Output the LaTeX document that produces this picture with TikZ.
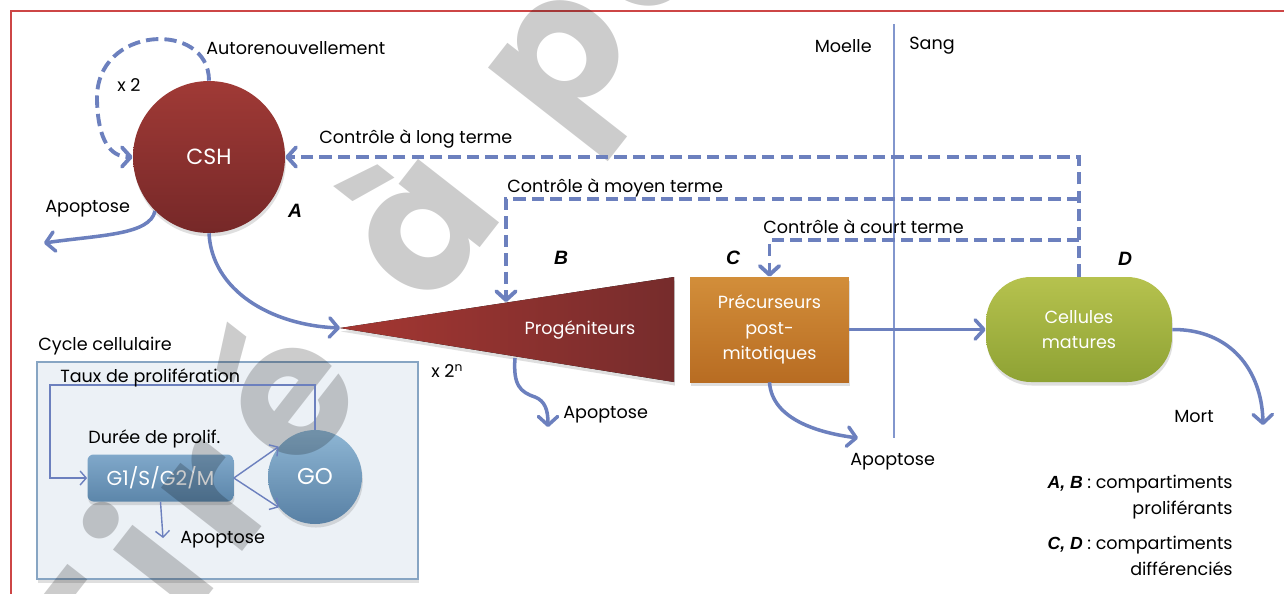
\documentclass[tikz,border=0pt]{standalone}
\usepackage{fontspec}
\setmainfont{Poppins}
\newfontfamily\lblfont{Liberation Sans}
\newfontfamily\wmfont{Poppins}
\usetikzlibrary{arrows.meta,shadows}
\definecolor{flowblue}{RGB}{108,128,190}
\definecolor{linblue}{RGB}{130,150,205}
\definecolor{framered}{RGB}{205,70,70}
\definecolor{cshtop}{RGB}{160,58,54}
\definecolor{cshbot}{RGB}{118,40,40}
\definecolor{tril}{RGB}{165,55,50}
\definecolor{trir}{RGB}{118,44,44}
\definecolor{prectop}{RGB}{210,142,58}
\definecolor{precbot}{RGB}{184,108,34}
\definecolor{mattop}{RGB}{182,194,78}
\definecolor{matbot}{RGB}{142,162,52}
\definecolor{gotop}{RGB}{142,182,212}
\definecolor{gobot}{RGB}{88,128,164}
\definecolor{gonetop}{RGB}{128,168,202}
\definecolor{gonebot}{RGB}{92,134,170}
\definecolor{cycfill}{RGB}{236,241,246}
\definecolor{cycborder}{RGB}{135,165,195}
\begin{document}
\begin{tikzpicture}[x=0.02cm,y=-0.02cm,
  font=\fontsize{10}{12}\selectfont,
  flow/.style={draw=flowblue, line width=2pt, -{Straight Barb[length=5pt,width=11pt,round]}},
  ctrl/.style={draw=flowblue, line width=2.2pt, dash pattern=on 7pt off 3.5pt, -{Straight Barb[length=5pt,width=11pt,round]}},
  thinflow/.style={draw=flowblue, line width=0.8pt, -{Straight Barb[length=3.5pt,width=8pt]}},
  lbl/.style={font=\lblfont\bfseries\itshape\fontsize{11}{13}\selectfont},
  txt/.style={inner sep=0pt},
  wm/.style={text=black, text opacity=0.2, rotate=52, anchor=base, inner sep=0pt, font=\wmfont\bfseries\fontsize{105}{105}\selectfont},
  shad/.style={drop shadow={opacity=0.25,shadow xshift=0.5pt,shadow yshift=-2pt}}
]
\useasboundingbox (0,0) rectangle (1284,593);
\clip (0,0) rectangle (1284,593);
\fill[white] (0,0) rectangle (1284,593);
% frame
\draw[framered, line width=0.9pt] (11,600) -- (11,11) -- (1290,11);

% cycle box
\node[draw=cycborder, line width=1pt, fill=cycfill, minimum width=7.62cm, minimum height=4.34cm, shad] (cyc) at (227.5,470.5) {};

% main shapes
\node[circle, minimum size=3.04cm, top color=cshtop, bottom color=cshbot, text=white, font=\fontsize{12.5}{14}\selectfont, shad] (csh) at (209,157) {CSH};
\fill[left color=tril, right color=trir, shad] (340,328) -- (674,277) -- (674,382) -- cycle;
\coordinate (tip) at (340,328);
\coordinate (tB) at (506,302);
\coordinate (tA) at (515,358);
\node[text=white, txt] (prog) at (580,330) {Progéniteurs};
\node[rectangle, minimum width=3.18cm, minimum height=2.1cm, top color=prectop, bottom color=precbot, text=white, align=center, font=\fontsize{10}{14.5}\selectfont, shad] (prec) at (769.5,329.5) {Précurseurs\\post-\\mitotiques};
\node[rectangle, rounded corners=0.9cm, minimum width=3.72cm, minimum height=2.1cm, top color=mattop, bottom color=matbot, text=white, align=center, font=\fontsize{10}{14}\selectfont, shad] (mat) at (1079,329.5) {Cellules\\matures};
\node[rectangle, rounded corners=0.12cm, minimum width=2.92cm, minimum height=0.94cm, top color=gonetop, bottom color=gonebot, text=white, font=\fontsize{11.5}{13}\selectfont, shad] (g1) at (160.5,478) {G1/S/G2/M};
\node[circle, minimum size=1.88cm, top color=gotop, bottom color=gobot, text=white, font=\fontsize{13}{15}\selectfont, shad] (go) at (315,477) {GO};

% watermark
\node[wm] at (139,684) {T};
\node[wm] at (204,601) {i};
\node[wm] at (260,529) {r};
\node[wm] at (335,434) {é};
\node[wm] at (468,263) {à};
\node[wm] at (601,91) {p};
\node[wm] at (689,-21) {a};

% Moelle / Sang separator
\coordinate (ms1) at (894,24);
\coordinate (ms2) at (894,438);
\draw[linblue, line width=1pt] (ms1) -- (ms2);

% control loops
\draw[ctrl] (csh.north) .. controls (209,20) and (95,25) .. (97,100) .. controls (98,140) and (110,157) .. (csh.west);
\draw[ctrl] (mat.north) -- (mat.north |- csh.east) -- (csh.east);
\coordinate (mid) at (1079,199);
\coordinate (short) at (1079,240);
\draw[ctrl] (mid) -- (mid -| tB) -- (tB);
\draw[ctrl] (short) -- (short -| prec.north) -- (prec.north);

% flows
\coordinate (apoA) at (44,243);
\coordinate (apoB) at (548,427);
\coordinate (apoC) at (858,438);
\coordinate (mortend) at (1263,425);
\draw[flow] (csh.south) .. controls (212,290) and (270,325) .. (tip);
\draw[flow] (csh.225) .. controls (150,235) and (100,235) .. (apoA);
\draw[flow] (tA) .. controls (513,385) and (520,392) .. (535,397) .. controls (545,401) and (548,410) .. (apoB);
\draw[flow] (prec.south) .. controls (772,420) and (820,433) .. (apoC);
\draw[flow] (prec.east) -- (mat.west);
\draw[flow] (mat.east) .. controls (1230,329) and (1262,370) .. (mortend);

% cycle arrows
\coordinate (fb) at (50,385);
\coordinate (g1apo) at (163,538);
\draw[thinflow] (go.north) |- (fb) |- (g1.west);
\draw[thinflow] (g1.east) -- (go.140);
\draw[thinflow] (g1.east) -- (go.220);
\draw[thinflow] (g1.south) -- (g1apo);

% labels
\node[txt, anchor=west] (lauto) at (206,48) {Autorenouvellement};
\node[txt, anchor=west] (lx2) at (117,85) {x 2};
\node[txt, anchor=west] (llong) at (319,139) {Contrôle à long terme};
\node[txt, anchor=west] (lmoy) at (507,188) {Contrôle à moyen terme};
\node[txt, anchor=west] (lcourt) at (763,227) {Contrôle à court terme};
\node[txt, anchor=west] (lapoA) at (45,209) {Apoptose};
\node[txt, anchor=west] (lapoB) at (563,415) {Apoptose};
\node[txt, anchor=west] (lapoC) at (850,462) {Apoptose};
\node[txt, anchor=west] (lapoG) at (180,540) {Apoptose};
\node[txt, anchor=east] (lmoelle) at (872,46) {Moelle};
\node[txt, anchor=west] (lsang) at (909,46) {Sang};
\node[txt, anchor=west] (lmort) at (1174,416) {Mort};
\node[txt, anchor=west] (lx2n) at (431,371) {x 2\textsuperscript{n}};
\node[txt, anchor=west] (lcyc) at (38,346) {Cycle cellulaire};
\node[txt, anchor=west] (ltaux) at (60,378) {Taux de prolifération};
\node[txt, anchor=west] (ldur) at (88,439) {Durée de prolif.};
\node[lbl] (lA) at (295,211) {A};
\node[lbl] (lB) at (561,258) {B};
\node[lbl] (lC) at (733,258) {C};
\node[lbl] (lD) at (1125,259) {D};
\node[txt, anchor=east] (leg1) at (1233,484) {{\lblfont\bfseries\itshape A, B} : compartiments};
\node[txt, anchor=east] (leg2) at (1233,510) {proliférants};
\node[txt, anchor=east] (leg3) at (1233,545) {{\lblfont\bfseries\itshape C, D} : compartiments};
\node[txt, anchor=east] (leg4) at (1233,569) {différenciés};
\end{tikzpicture}
\end{document}
